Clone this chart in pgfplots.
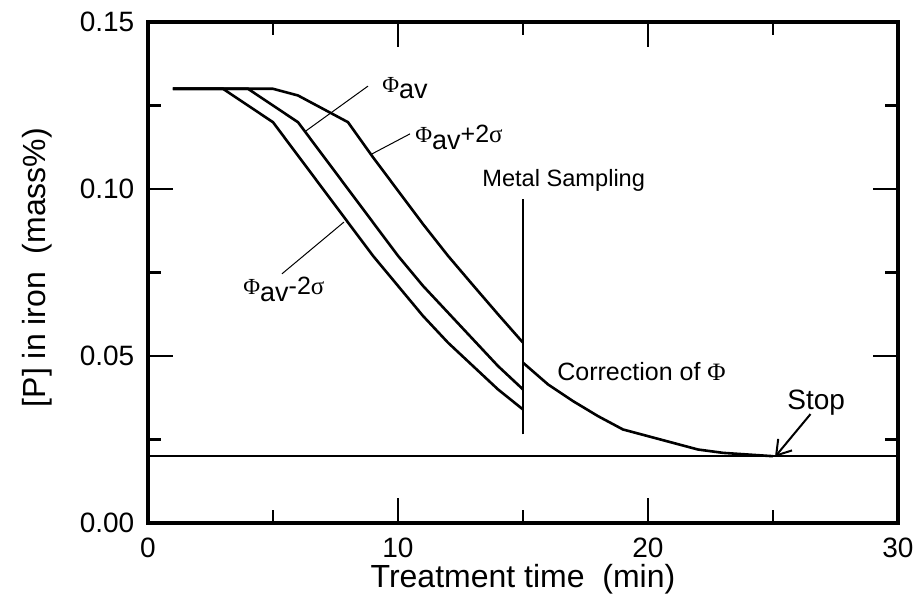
\documentclass[border=0pt]{standalone}
\usepackage{fontspec}
\setmainfont{Liberation Sans}
\newfontfamily\grk{Liberation Serif}
\usepackage{pgfplots}
\pgfplotsset{compat=1.18}
\usetikzlibrary{arrows.meta}

\newcommand{\fs}[1]{\fontsize{#1}{#1}\selectfont}
\newcommand{\phiav}{{\grk\fs{11.5}Φ}\raisebox{-3.2pt}{\fs{13.5}av}}

\begin{document}
\begin{tikzpicture}
\begin{axis}[
  width=375pt, height=250.5pt, scale only axis,
  xmin=0, xmax=30, ymin=0, ymax=0.15,
  xtick={0,10,20,30}, minor xtick={5,15,25},
  ytick={0,0.05,0.10,0.15}, minor ytick={0.025,0.075,0.125},
  tick align=inside, xtick pos=both, ytick pos=both,
  major tick length=12.5pt, minor tick length=6.5pt,
  tick style={black, line width=1.3pt},
  axis line style={line width=2pt},
  tick label style={font=\fs{14}},
  /pgf/number format/assume math mode=true,
  scaled y ticks=false,
  yticklabel style={/pgf/number format/fixed, /pgf/number format/fixed zerofill,
    /pgf/number format/precision=2, xshift=-3.3pt},
  xticklabel style={inner ysep=0.5pt, yshift=-7pt},
  xlabel={Treatment time~~(min)},
  ylabel={[P] in iron~~(mass\%)},
  label style={font=\fs{16}},
  xlabel style={at={(axis description cs:0.5,-0.1297)}, anchor=base, inner ysep=0.5pt},
  ylabel style={at={(axis description cs:-0.148,0.51)}, anchor=center},
  clip=false,
]
% Phi_av - 2 sigma
\addplot[black, line width=1.3pt] coordinates {
  (1,0.13) (3,0.13) (4,0.125) (5,0.12) (6,0.11) (7,0.10) (8,0.09) (9,0.08)
  (10,0.071) (11,0.062) (12,0.054) (13,0.047) (14,0.040) (15,0.034)
};
% Phi_av
\addplot[black, line width=1.3pt] coordinates {
  (1,0.13) (4,0.13) (5,0.125) (6,0.12) (7,0.11) (8,0.10) (9,0.09) (10,0.08)
  (11,0.071) (12,0.063) (13,0.055) (14,0.047) (15,0.040)
};
% Phi_av + 2 sigma
\addplot[black, line width=1.3pt] coordinates {
  (1,0.13) (5,0.13) (6,0.128) (7,0.124) (8,0.12) (9,0.1095) (10,0.0995)
  (11,0.0895) (12,0.080) (13,0.0712) (14,0.0625) (15,0.054)
};
% correction after sampling
\addplot[black, line width=1.3pt] coordinates {
  (15,0.048) (16,0.0415) (17,0.0365) (18,0.032) (19,0.028) (20,0.026)
  (21,0.024) (22,0.022) (23,0.021) (24,0.0205) (25,0.02)
};
% metal sampling line
\addplot[black, line width=1.3pt] coordinates {(15,0.0265) (15,0.097)};
% target level
\addplot[black, line width=1pt] coordinates {(0,0.02) (30,0.02)};

% leaders
\draw[line width=0.5pt] (axis cs:8.8,0.1308) -- (axis cs:6.32,0.1174);
\draw[line width=0.5pt] (axis cs:10.48,0.1165) -- (axis cs:8.96,0.1105);
\draw[line width=0.5pt] (axis cs:5.36,0.0746) -- (axis cs:7.84,0.0901);
\draw[line width=1pt, -{Straight Barb[length=7pt,width=9pt]}]
  (axis cs:26.5,0.0326) -- (axis cs:25.08,0.0198);

% labels
\node[anchor=base west, inner sep=0] at (axis cs:9.36,0.129) {\phiav};
\node[anchor=base west, inner sep=0] at (axis cs:10.68,0.1138) {\phiav{\fs{12.5}+2{\grk σ}}};
\node[anchor=base west, inner sep=0] at (axis cs:3.8,0.0683) {\phiav{\fs{12.5}-2{\grk σ}}};
\node[anchor=base west, inner sep=0, font=\fs{11.8}] at (axis cs:13.36,0.1006) {Metal Sampling};
\node[anchor=base west, inner sep=0, font=\fs{12.5}] at (axis cs:16.36,0.0428) {Correction of {\grk Φ}};
\node[anchor=base west, inner sep=0, font=\fs{14}] at (axis cs:25.56,0.0341) {Stop};

\coordinate (bbsw) at (rel axis cs:-0.1973,-0.1657);
\coordinate (bbne) at (rel axis cs:1.024,1.0439);
\end{axis}
\pgfresetboundingbox
\useasboundingbox (bbsw) rectangle (bbne);
\end{tikzpicture}
\end{document}
